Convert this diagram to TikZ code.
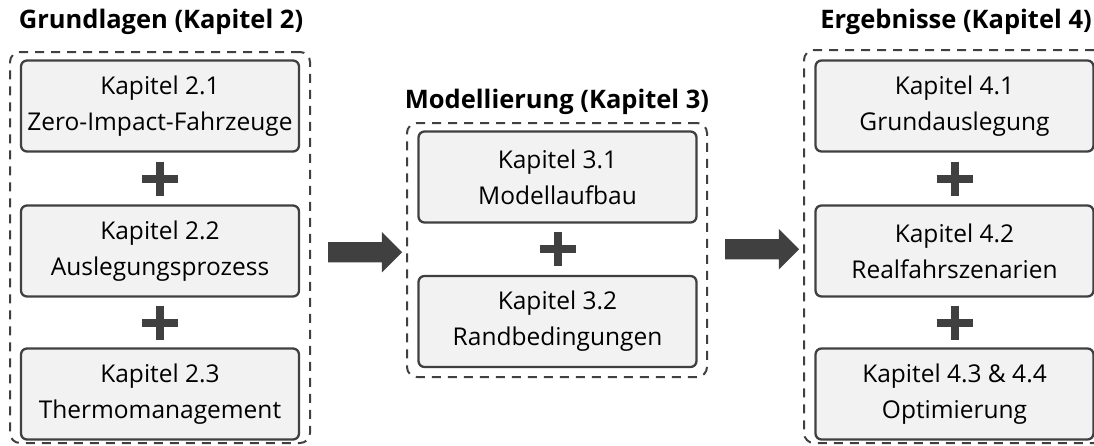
\documentclass[tikz,border=0pt]{standalone}
\usepackage{fontspec}
\setmainfont{Open Sans}
\usetikzlibrary{shapes.arrows,calc}
\definecolor{rahmen}{HTML}{404040}
\definecolor{kastenfuell}{HTML}{F2F2F2}
\begin{document}
\begin{tikzpicture}[x=1pt,y=-1pt,inner sep=0pt,outer sep=0pt,
kapbox/.style={draw=rahmen,fill=kastenfuell,rectangle,rounded corners=6pt,line width=2.3pt,
  minimum width=278pt,minimum height=91pt,align=center,font=\fontsize{24.5}{36}\selectfont},
gruppe/.style={draw=rahmen,rectangle,rounded corners=10pt,line width=2pt,dash pattern=on 9pt off 7pt},
titel/.style={font=\fontsize{25.5}{28}\selectfont\bfseries},
blockpfeil/.style={single arrow,fill=rahmen,inner xsep=0pt,inner ysep=10pt,minimum height=74pt,
  single arrow head extend=10pt,single arrow tip angle=90},
pluszeichen/.pic={\draw[rahmen,line width=8pt] (-18,0) -- (18,0) (0,-17) -- (0,17);}]
\clip (0,0) rectangle (1094,445);
% Grundlagen
\node[gruppe,minimum width=300pt,minimum height=391pt] (g2) at (160,247.5) {};
\node[titel] (t2) at (161,22) {Grundlagen (Kapitel 2)};
\node[kapbox] (k21) at (160,106) {Kapitel 2.1\\Zero-Impact-Fahrzeuge};
\node[kapbox] (k22) at (160,251) {Kapitel 2.2\\Auslegungsprozess};
\node[kapbox] (k23) at (160,394) {Kapitel 2.3\\Thermomanagement};
\pic at ($(k21.south)!0.5!(k22.north)$) {pluszeichen};
\pic at ($(k22.south)!0.5!(k23.north)$) {pluszeichen};
% Modellierung
\node[gruppe,minimum width=300pt,minimum height=254pt] (g3) at (557,250) {};
\node[titel] (t3) at (557,102) {Modellierung (Kapitel 3)};
\node[kapbox] (k31) at (557.5,177) {Kapitel 3.1\\Modellaufbau};
\node[kapbox] (k32) at (557.5,321.5) {Kapitel 3.2\\Randbedingungen};
\pic at ($(k31.south)!0.5!(k32.north)$) {pluszeichen};
% Ergebnisse
\node[gruppe,minimum width=300pt,minimum height=393pt] (g4) at (954,246.5) {};
\node[titel] (t4) at (956,22) {Ergebnisse (Kapitel 4)};
\node[kapbox] (k41) at (954.5,106) {Kapitel 4.1\\Grundauslegung};
\node[kapbox] (k42) at (954.5,251) {Kapitel 4.2\\Realfahrszenarien};
\node[kapbox] (k43) at (954.5,394) {Kapitel 4.3 \& 4.4\\Optimierung};
\pic at ($(k41.south)!0.5!(k42.north)$) {pluszeichen};
\pic at ($(k42.south)!0.5!(k43.north)$) {pluszeichen};
% Pfeile
\node[blockpfeil] (p23) at ($(g2.east)!0.5!(g3.west)+(1.5,3.5)$) {};
\node[blockpfeil] (p34) at ($(g3.east)!0.5!(g4.west)+(1.5,1)$) {};
\end{tikzpicture}
\end{document}
